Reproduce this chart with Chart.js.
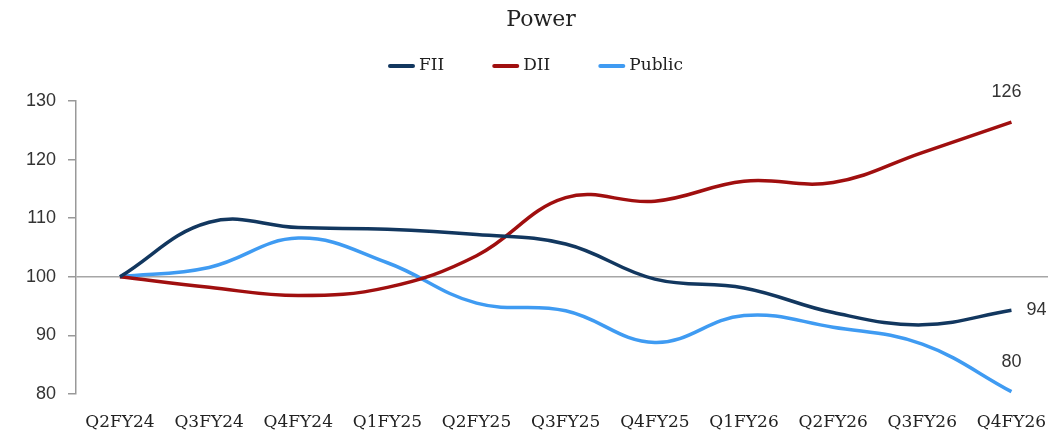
<!DOCTYPE html>
<html>
<head>
<meta charset="utf-8">
<script src="https://cdn.jsdelivr.net/npm/chart.js@4.4.1/dist/chart.umd.min.js"></script>
<style>
  html, body { margin: 0; padding: 0; background: #ffffff; }
  #wrap { width: 1048px; height: 436px; position: relative; }
</style>
</head>
<body>
<div id="wrap"><canvas id="c"></canvas></div>
<script>
const categories = ['Q2FY24','Q3FY24','Q4FY24','Q1FY25','Q2FY25','Q3FY25','Q4FY25','Q1FY26','Q2FY26','Q3FY26','Q4FY26'];
const fiiValues    = [100, 109.3, 108.4, 108.1, 107.2, 105.6, 99.6, 98.1, 93.9, 91.8, 94.3];
const diiValues    = [100, 98.2, 96.8, 98.2, 103.6, 113.5, 112.9, 116.3, 116.1, 121.2, 126.4];
const publicValues = [100, 101.6, 106.6, 102.4, 95.5, 94.2, 88.8, 93.4, 91.4, 88.5, 80.4];
const yTicks = [80, 90, 100, 110, 120, 130];
const chartTitle = 'Power';

const serif = "'DejaVu Serif', 'Liberation Serif', serif";
const sans = "'Liberation Sans', Arial, sans-serif";

function toPoints(arr) { return arr.map((v, i) => ({ x: i, y: v })); }

const endLabelOffsets = { 'FII': [25, 0], 'DII': [-5, -30], 'Public': [0, -30] };

const endLabels = {
  id: 'endLabels',
  afterDatasetsDraw(chart) {
    const ctx = chart.ctx;
    ctx.save();
    ctx.font = '18px ' + sans;
    ctx.fillStyle = '#333333';
    ctx.textAlign = 'center';
    ctx.textBaseline = 'middle';
    chart.data.datasets.forEach((ds, di) => {
      const meta = chart.getDatasetMeta(di);
      const last = meta.data[meta.data.length - 1];
      const off = endLabelOffsets[ds.label];
      const v = ds.data[ds.data.length - 1].y;
      ctx.fillText(String(Math.round(v)), last.x + off[0], last.y + off[1]);
    });
    ctx.restore();
  }
};

const headerPlugin = {
  id: 'header',
  afterDraw(chart) {
    const ctx = chart.ctx;
    ctx.save();
    // title
    ctx.font = '22px ' + serif;
    ctx.fillStyle = '#222222';
    ctx.textAlign = 'center';
    ctx.textBaseline = 'middle';
    ctx.fillText(chartTitle, 541, 20);
    // legend
    ctx.font = '17px ' + serif;
    const lineW = 27, gapText = 4, gapItem = 48;
    let x = 388;
    const y = 66;
    ctx.textAlign = 'left';
    chart.data.datasets.forEach(ds => {
      const w = ctx.measureText(ds.label).width;
      ctx.strokeStyle = ds.borderColor;
      ctx.lineWidth = 4;
      ctx.lineCap = 'round';
      ctx.beginPath();
      ctx.moveTo(x + 2, y);
      ctx.lineTo(x + lineW - 2, y);
      ctx.stroke();
      ctx.fillStyle = '#222222';
      ctx.fillText(ds.label, x + lineW + gapText, y);
      x += lineW + gapText + w + gapItem;
    });
    ctx.restore();
  }
};

new Chart(document.getElementById('c'), {
  type: 'line',
  data: {
    datasets: [
      { label: 'FII', data: toPoints(fiiValues), borderColor: '#12375F', backgroundColor: '#12375F' },
      { label: 'DII', data: toPoints(diiValues), borderColor: '#A00F0F', backgroundColor: '#A00F0F' },
      { label: 'Public', data: toPoints(publicValues), borderColor: '#3F9BF2', backgroundColor: '#3F9BF2' }
    ]
  },
  options: {
    responsive: true,
    maintainAspectRatio: false,
    animation: false,
    layout: { padding: { top: 101, right: 0, bottom: 0, left: 0 } },
    elements: {
      line: { borderWidth: 3.5, tension: 0.4, fill: false },
      point: { radius: 0, hoverRadius: 0 }
    },
    plugins: {
      title: { display: false },
      legend: { display: false },
      tooltip: { enabled: false }
    },
    scales: {
      x: {
        type: 'linear',
        min: -0.493,
        max: 10.41,
        grid: { display: false },
        border: { display: false },
        afterBuildTicks(scale) {
          scale.ticks = categories.map((c, i) => ({ value: i }));
        },
        afterFit(scale) { scale.height = 42; scale.paddingLeft = 0; scale.paddingRight = 0; },
        ticks: {
          autoSkip: false,
          maxRotation: 0,
          color: '#222222',
          font: { family: serif, size: 17 },
          padding: 10,
          callback: (v) => categories[v]
        }
      },
      y: {
        type: 'linear',
        min: 80,
        max: 130,
        afterBuildTicks(scale) {
          scale.ticks = yTicks.map(v => ({ value: v }));
        },
        afterFit(scale) { scale.width = 76; },
        border: { display: true, color: '#999999', width: 1.5 },
        grid: {
          drawTicks: true,
          tickLength: 8,
          tickColor: '#999999',
          lineWidth: 1.5,
          color: (c) => (c.tick && c.tick.value === 100 ? '#A6A6A6' : 'rgba(0,0,0,0)')
        },
        ticks: {
          color: '#333333',
          font: { family: sans, size: 18 },
          padding: 12
        }
      }
    }
  },
  plugins: [endLabels, headerPlugin]
});
</script>
</body>
</html>
